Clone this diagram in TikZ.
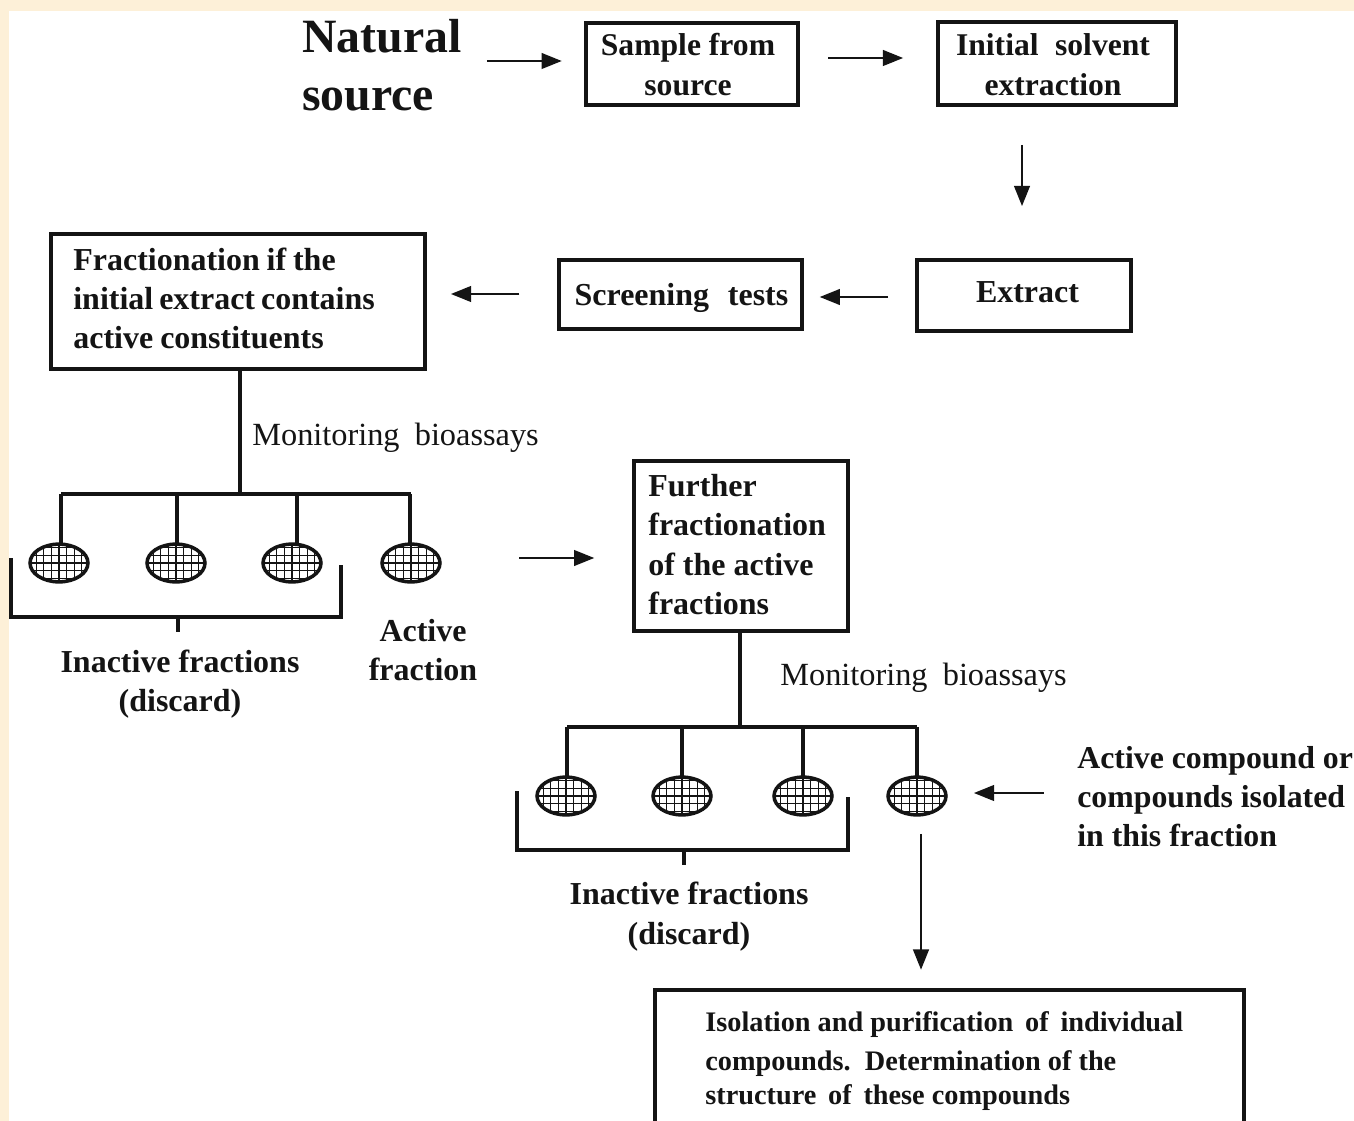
\documentclass[tikz,border=0pt]{standalone}
\usepackage{fontspec}
\setmainfont{Liberation Serif}
\usetikzlibrary{shapes.geometric,arrows.meta}
\definecolor{panelcream}{HTML}{FDF0D8}
\definecolor{inkblack}{HTML}{141414}
\tikzset{
  flowbox/.style={draw=inkblack, line width=2.3pt, inner sep=0pt},
  flowtext/.style={inner sep=0pt, align=center, text=inkblack, font=\fontsize{18.2}{22.4}\selectfont\bfseries},
  assaytext/.style={inner sep=0pt, anchor=west, text=inkblack, font=\fontsize{18.4}{22}\selectfont},
  flowarrow/.style={draw=inkblack, line width=1pt, -{Triangle[length=11.5pt,width=9pt]}},
  branch/.style={draw=inkblack, line width=2.3pt},
  meshdisc/.style={ellipse, draw=inkblack, line width=2pt, minimum width=33pt, minimum height=21.5pt, inner sep=0pt,
    path picture={\draw[inkblack, line width=0.6pt, step=4.3pt] ([shift={(-1pt,-1pt)}]path picture bounding box.south west) grid (path picture bounding box.north east);}}
}
\begin{document}
\begin{tikzpicture}[x=0.02cm, y=-0.02cm]
   \useasboundingbox (0,0) rectangle (1354,1121);
   \fill[panelcream] (0,0) rectangle (1354,1121);
   \fill[white] (9,11) rectangle (1354,1121);

   % top row
   \node[inner sep=0pt, align=left, anchor=west, text=inkblack, font=\fontsize{27.2}{33}\selectfont\bfseries] (source) at (302,65) {Natural\\source};
   \node[flowbox, minimum width=121pt, minimum height=46.5pt] (sample) at (692,64) {};
   \node[flowtext, font=\fontsize{18}{22.8}\selectfont\bfseries] (sampletext) at (688,65) {Sample from\\source};
   \node[flowbox, minimum width=135.3pt, minimum height=47pt] (solvent) at (1057,63.5) {};
   \node[flowtext, font=\fontsize{18}{22.8}\selectfont\bfseries] (solventtext) at (1053,64.5) {Initial\hspace{0.27em} solvent\\extraction};

   % second row
   \node[flowbox, minimum width=121.6pt, minimum height=40.3pt] (extract) at (1024,295.5) {};
   \node[flowtext] (extracttext) at (1027.5,292.5) {Extract};
   \node[flowbox, minimum width=138pt, minimum height=39pt] (screening) at (680.5,294.5) {};
   \node[flowtext] (screeningtext) at (681.5,297.5) {Screening\hspace{0.34em} tests};
   \node[flowbox, minimum width=212.7pt, minimum height=76.7pt] (fractionation) at (238,301.5) {};
   \node[flowtext, anchor=west, align=left, font=\fontsize{18.2}{22.2}\selectfont\bfseries] (fractionationtext) at (73,298.5) {\spaceskip=3.9pt\relax Fractionation if the\\\spaceskip=3.4pt\relax initial extract contains\\\spaceskip=4pt\relax active constituents};

   % first fractions
   \node[assaytext] (assay1) at (252,438) {Monitoring\hspace{0.22em} bioassays};
   \foreach \name/\x in {a/59,b/176,c/292,d/411}
      \node[meshdisc] (disc\name) at (\x,563) {};
   \coordinate (fork1) at (240,494);
   \draw[branch] (fractionation.south -| fork1) -- (fork1);
   \draw[branch] (61,494) -- (411,494);
   \draw[branch] (61,494) -- (61,545);
   \draw[branch] (177,494) -- (177,545);
   \draw[branch] (297,494) -- (297,545);
   \draw[branch] (410,494) -- (410,545);
   \draw[branch] (11,558) -- (11,617) -- (341,617) -- (341,565);
   \draw[branch] (178,617) -- (178,632);
   \node[flowtext] (inactive1) at (180,684) {Inactive fractions\\(discard)};
   \node[flowtext] (active1) at (423,650) {Active\\fraction};

   % further fractionation
   \node[flowbox, minimum width=121.6pt, minimum height=96.6pt] (further) at (741,546) {};
   \node[flowtext, anchor=west, align=left] (furthertext) at (648,544.5) {Further\\fractionation\\of the active\\fractions};
   \node[assaytext] (assay2) at (780,678) {Monitoring\hspace{0.22em} bioassays};
   \foreach \name/\x in {e/566,f/682,g/803,h/917}
      \node[meshdisc] (disc\name) at (\x,796) {};
   \coordinate (fork2) at (740,727);
   \draw[branch] (further.south -| fork2) -- (fork2);
   \draw[branch] (567,727) -- (917,727);
   \draw[branch] (567,727) -- (567,778);
   \draw[branch] (682,727) -- (682,778);
   \draw[branch] (803,727) -- (803,778);
   \draw[branch] (917,727) -- (917,778);
   \draw[branch] (517,791) -- (517,850) -- (848,850) -- (848,797);
   \draw[branch] (684,850) -- (684,865);
   \node[flowtext] (inactive2) at (689,916.5) {Inactive fractions\\(discard)};
   \node[flowtext, anchor=west, align=left, font=\fontsize{18.1}{22.2}\selectfont\bfseries] (activecpd) at (1077,797) {Active compound or\\compounds isolated\\in this fraction};

   % last box runs off the page
   \node[inner sep=0pt, minimum width=334.5pt, minimum height=74.5pt] (isolation) at (949.5,1055.5) {};
   \draw[branch] (isolation.south west) |- (isolation.north east) -- (isolation.south east);
   \node[inner sep=0pt, anchor=west, align=left, text=inkblack, font=\fontsize{16.1}{19.4}\selectfont\bfseries] (isolationtext) at (705,1061) {Isolation and purification\, of\, individual\\[2.8pt]compounds.\, Determination of the\\structure\, of\, these compounds};

   % arrows
   \coordinate (row1a) at (0,61);
   \coordinate (row1b) at (0,58);
   \coordinate (row2a) at (0,297);
   \coordinate (row2b) at (0,294);
   \coordinate (row3) at (0,558);
   \coordinate (row4) at (0,793);
   \coordinate (col1) at (1022,0);
   \coordinate (col2) at (921,0);
   \draw[flowarrow, shorten <=14.2pt, shorten >=12.5pt] (source.east |- row1a) -- (sample.west |- row1a);
   \draw[flowarrow, shorten <=15.9pt, shorten >=18.8pt] (sample.east |- row1b) -- (solvent.west |- row1b);
   \draw[flowarrow, shorten <=21.6pt, shorten >=29.6pt] (solvent.south -| col1) -- (extract.north -| col1);
   \draw[flowarrow, shorten <=15.4pt, shorten >=9.1pt] (extract.west |- row2a) -- (screening.east |- row2a);
   \draw[flowarrow, shorten <=21.6pt, shorten >=13.7pt] (screening.west |- row2b) -- (fractionation.east |- row2b);
   \draw[flowarrow, shorten <=61.5pt, shorten >=21.6pt] (discd.center |- row3) -- (further.west |- row3);
   \draw[flowarrow, shorten <=18.8pt, shorten >=32.4pt] (activecpd.west |- row4) -- (disch.center |- row4);
   \draw[flowarrow, shorten <=9.8pt, shorten >=11.4pt] (disch.south -| col2) -- (isolation.north -| col2);
\end{tikzpicture}
\end{document}
